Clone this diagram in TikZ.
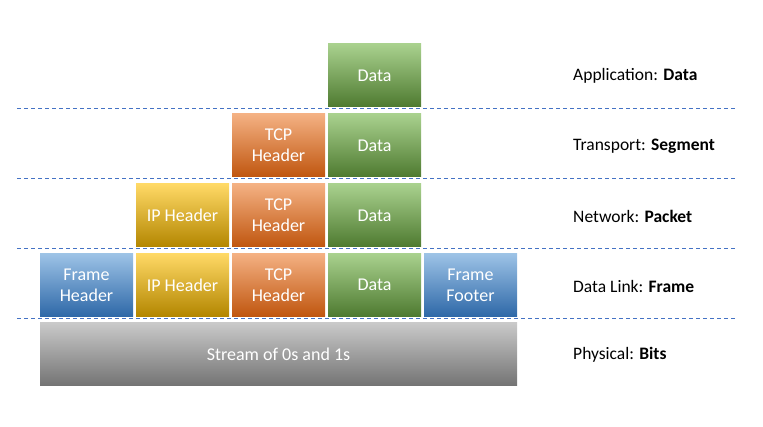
\documentclass[tikz,border=0pt]{standalone}
\usepackage{fontspec}
\setmainfont{Carlito}
\definecolor{grT}{HTML}{A9D18E}\definecolor{grM}{HTML}{70AD47}\definecolor{grB}{HTML}{4E7A30}
\definecolor{orT}{HTML}{F4B183}\definecolor{orM}{HTML}{ED7D31}\definecolor{orB}{HTML}{C0560F}
\definecolor{ylT}{HTML}{FFD966}\definecolor{ylM}{HTML}{FFC000}\definecolor{ylB}{HTML}{B38600}
\definecolor{blT}{HTML}{9DC3E6}\definecolor{blM}{HTML}{5B9BD5}\definecolor{blB}{HTML}{2E68A8}
\definecolor{gyT}{HTML}{C9C9C9}\definecolor{gyM}{HTML}{A5A5A5}\definecolor{gyB}{HTML}{737373}
\definecolor{dashblue}{HTML}{4472C4}
\begin{document}
\begin{tikzpicture}[x=1pt,y=-1pt,
  blk/.style={minimum width=93pt,minimum height=63pt,inner sep=0pt,text=white,
    font=\fontsize{18}{21}\selectfont,align=center},
  green/.style={blk,top color=grT,middle color=grM,bottom color=grB},
  orange/.style={blk,top color=orT,middle color=orM,bottom color=orB},
  yellow/.style={blk,top color=ylT,middle color=ylM,bottom color=ylB},
  blue/.style={blk,top color=blT,middle color=blM,bottom color=blB},
  gray/.style={blk,minimum width=477pt,top color=gyT,middle color=gyM,bottom color=gyB},
  sep/.style={dashblue,line width=0.8pt,dash pattern=on 4pt off 3pt},
  lbl/.style={anchor=west,inner sep=0pt,font=\fontsize{17.5}{20}\selectfont}]
\useasboundingbox (0,0) rectangle (763,427);
% separators
\coordinate (l1a) at (17,108); \coordinate (l1b) at (736,108);
\coordinate (l2a) at (17,178); \coordinate (l2b) at (736,178);
\coordinate (l3a) at (17,248); \coordinate (l3b) at (736,248);
\coordinate (l4a) at (17,318); \coordinate (l4b) at (736,318);
\draw[sep] (l1a) -- (l1b);
\draw[sep] (l2a) -- (l2b);
\draw[sep] (l3a) -- (l3b);
\draw[sep] (l4a) -- (l4b);
% row 1
\node[green] (d1) at (374.5,75.5) {Data};
% row 2
\node[orange] (t2) at (278.5,145.5) {TCP\\Header};
\node[green] (d2) at (374.5,145.5) {Data};
% row 3
\node[yellow] (i3) at (182.5,215.5) {IP Header};
\node[orange] (t3) at (278.5,215.5) {TCP\\Header};
\node[green] (d3) at (374.5,215.5) {Data};
% row 4
\node[blue] (f4) at (86.5,285) {Frame\\Header};
\node[yellow] (i4) at (182.5,285) {IP Header};
\node[orange] (t4) at (278.5,285) {TCP\\Header};
\node[green] (d4) at (374.5,285) {Data};
\node[blue] (ff4) at (470.5,285) {Frame\\Footer};
% row 5
\node[gray] (s5) at (278.5,354.5) {Stream of 0s and 1s};
% labels
\node[lbl] (a) at (573,76) {Application: \textbf{Data}};
\node[lbl] (b) at (573,146) {Transport: \textbf{Segment}};
\node[lbl] (c) at (573,216) {Network: \textbf{Packet}};
\node[lbl] (d) at (573,286) {Data Link: \textbf{Frame}};
\node[lbl] (e) at (573,355) {Physical: \textbf{Bits}};
\end{tikzpicture}
\end{document}
